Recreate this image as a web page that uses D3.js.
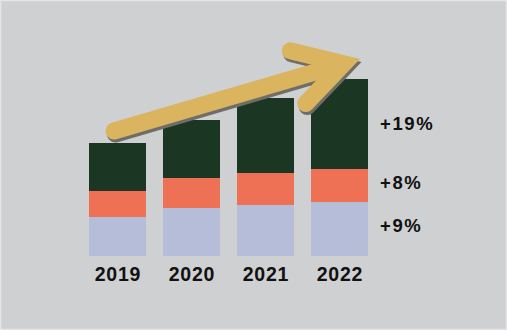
<!DOCTYPE html>
<html><head><meta charset="utf-8">
<script src="https://cdn.jsdelivr.net/npm/d3@7"></script>
<style>html,body{margin:0;padding:0;background:#cfd0d2;}svg{display:block;}</style>
</head><body>
<svg id="c" width="507" height="330"></svg>
<script>
const years = ["2019", "2020", "2021", "2022"];
const baseValues = [39, 48, 51, 54];
const midValues = [26, 30, 32, 33];
const topValues = [48, 58, 75, 90];
const growthLabels = ["+9%", "+8%", "+19%"];
const colors = ["#b6bdd8", "#ee7055", "#1b3622"];

const svg = d3.select("#c");
svg.append("rect").attr("x", 0.5).attr("y", 0.5).attr("width", 506).attr("height", 329)
  .attr("fill", "#cfd0d2").attr("stroke", "#e6e6e6").attr("stroke-width", 1.5);

const x = d3.scaleBand().domain(years).range([89, 368]).paddingInner(17 / 74).paddingOuter(0);
const y = d3.scaleLinear().domain([0, 200]).range([256, 56]);

const rows = years.map((yr, i) => ({ year: yr, base: baseValues[i], mid: midValues[i], top: topValues[i] }));
const stacked = d3.stack().keys(["base", "mid", "top"])(rows);

svg.append("g").selectAll("g").data(stacked).join("g")
  .attr("fill", (d, i) => colors[i])
  .selectAll("rect").data(d => d).join("rect")
  .attr("x", d => x(d.data.year))
  .attr("width", x.bandwidth())
  .attr("y", d => y(d[1]))
  .attr("height", d => y(d[0]) - y(d[1]));

// year labels
svg.append("g").selectAll("text").data(years).join("text")
  .attr("x", d => x(d) + x.bandwidth() / 2 + 0.4)
  .attr("y", 280.5)
  .attr("text-anchor", "middle")
  .attr("font-family", "Liberation Sans, Arial, sans-serif")
  .attr("font-weight", "bold")
  .attr("font-size", 19.5)
  .attr("letter-spacing", 0.7)
  .attr("fill", "#111")
  .text(d => d);

// growth labels on right of last bar
const last = stacked.map(s => s[s.length - 1]);
const labelOffsets = [3, 3, 6];
svg.append("g").selectAll("text").data(last).join("text")
  .attr("x", 380)
  .attr("y", (d, i) => y((d[0] + d[1]) / 2) + labelOffsets[i])
  .attr("font-family", "Liberation Sans, Arial, sans-serif")
  .attr("font-weight", "bold")
  .attr("font-size", 18.5)
  .attr("letter-spacing", 1.6)
  .attr("fill", "#111")
  .text((d, i) => growthLabels[i]);

// arrow
const tail = [114, 131];
const tip = [360, 59];
const w = 17;
const ang = Math.atan2(tip[1] - tail[1], tip[0] - tail[0]);
const half = 30 * Math.PI / 180;
const miter = (w / 2) / Math.sin(half);
const apex = [tip[0] - miter * Math.cos(ang), tip[1] - miter * Math.sin(ang)];
const armLen = 55;
const back = ang + Math.PI;
const armA = [apex[0] + armLen * Math.cos(back - half), apex[1] + armLen * Math.sin(back - half)];
const armB = [apex[0] + armLen * Math.cos(back + half), apex[1] + armLen * Math.sin(back + half)];
const shaftEnd = [apex[0] - 6 * Math.cos(ang), apex[1] - 6 * Math.sin(ang)];
const line = d3.line();

function drawArrow(g, color, dx, dy) {
  const gg = g.append("g").attr("transform", `translate(${dx},${dy})`)
    .attr("fill", "none").attr("stroke", color).attr("stroke-width", w)
    .attr("stroke-linecap", "round").attr("stroke-linejoin", "miter").attr("stroke-miterlimit", 10);
  gg.append("path").attr("d", line([tail, shaftEnd]));
  gg.append("path").attr("d", line([armA, apex, armB]));
}
const ag = svg.append("g");
drawArrow(ag, "#6e6d68", 1.5, 3);
drawArrow(ag, "#dab45f", 0, 0);
</script>
</body></html>
